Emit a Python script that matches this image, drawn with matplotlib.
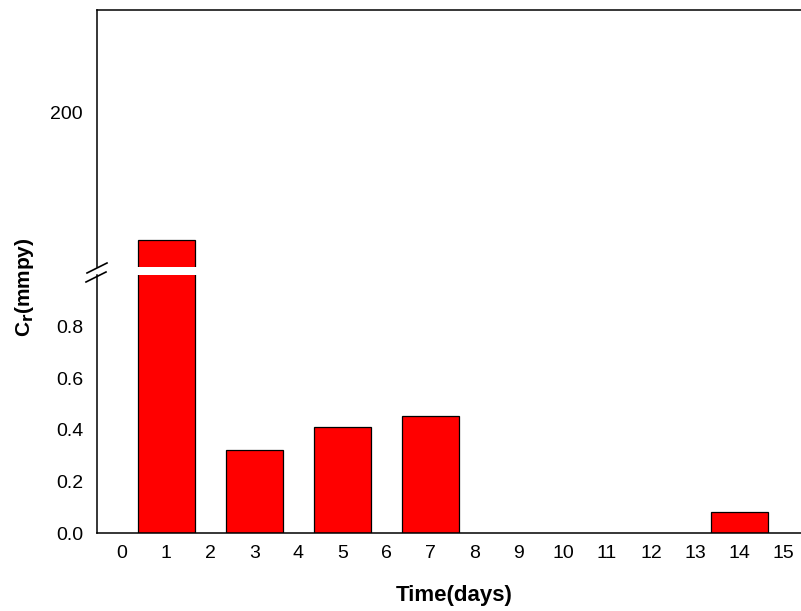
import matplotlib
matplotlib.use("Agg")
import matplotlib.pyplot as plt
from matplotlib.lines import Line2D

plt.rcParams['font.family'] = ['Liberation Sans', 'DejaVu Sans']

days = [1, 3, 5, 7, 14]
cr_values = [138, 0.32, 0.41, 0.455, 0.082]
x_ticks = list(range(0, 16))
low_yticks = [0.0, 0.2, 0.4, 0.6, 0.8]
high_yticks = [200]

W, H = 801, 611
fig = plt.figure(figsize=(W / 100, H / 100), dpi=100)

def fx(px):
    return px / W

def fy(py):
    return (H - py) / H

left = fx(97)
width = 1.0 - left
ax_lo = fig.add_axes([left, fy(533), width, fy(275) - fy(533)])
ax_hi = fig.add_axes([left, fy(267), width, fy(10) - fy(267)])

for ax in (ax_lo, ax_hi):
    ax.bar(days, cr_values, width=1.3, color='#ff0000', edgecolor='black', linewidth=0.9, zorder=2)
    ax.set_xlim(-0.57, 15.4)
    ax.spines['right'].set_visible(False)
    for s in ax.spines.values():
        s.set_linewidth(1.1)
    ax.tick_params(length=0, labelsize=14)

ax_lo.set_ylim(0, 1.0)
ax_lo.set_yticks(low_yticks)
ax_lo.set_yticklabels([f"{v:.1f}" for v in low_yticks])
ax_lo.set_xticks(x_ticks)
ax_lo.set_xticklabels([str(v) for v in x_ticks])
ax_lo.spines['top'].set_visible(False)
ax_lo.tick_params(axis='x', pad=9)
ax_lo.tick_params(axis='y', pad=10)

ax_hi.set_ylim(125, 250)
ax_hi.set_yticks(high_yticks)
ax_hi.set_yticklabels([str(v) for v in high_yticks])
ax_hi.set_xticks([])
ax_hi.spines['bottom'].set_visible(False)
ax_hi.tick_params(axis='y', pad=10)

# break marks
for (x0, y0, x1, y1) in [(87, 273, 107, 263), (86, 282, 106, 272)]:
    fig.add_artist(Line2D([fx(x0), fx(x1)], [fy(y0), fy(y1)], color='black', linewidth=1.2,
                          transform=fig.transFigure))

fig.text(fx(454), fy(596), 'Time(days)', ha='center', va='center', fontsize=16, fontweight='bold')
fig.text(fx(25), fy(287), r'C$_\mathbf{r}$(mmpy)', ha='center', va='center', rotation=90,
         fontsize=15, fontweight='bold')

fig.savefig('out.png', dpi=100)
